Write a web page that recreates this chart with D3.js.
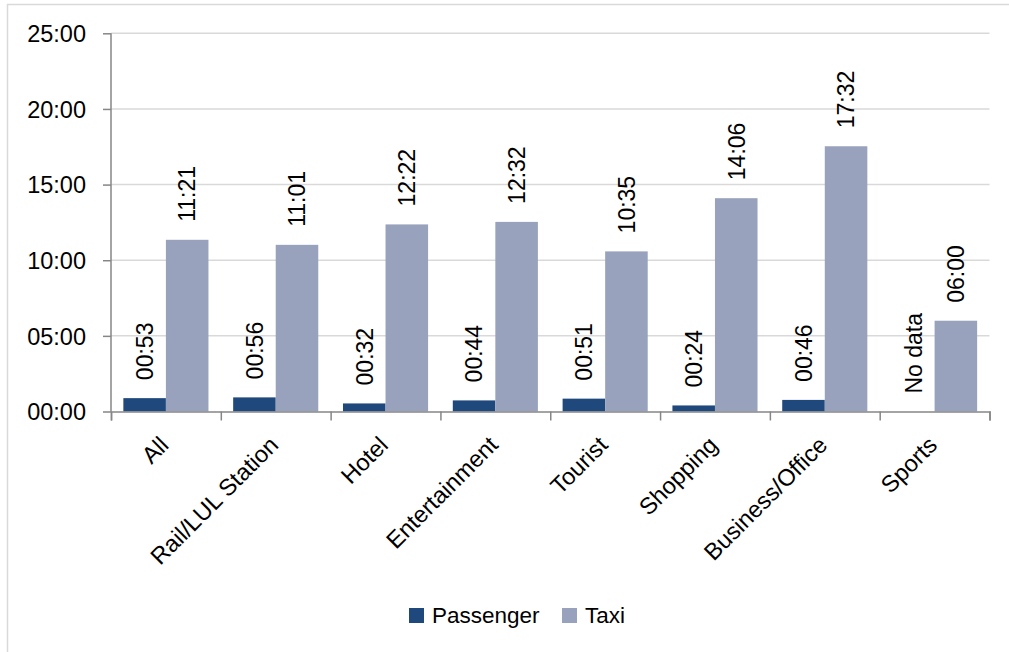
<!DOCTYPE html>
<html>
<head>
<meta charset="utf-8">
<script src="https://cdn.jsdelivr.net/npm/d3@7/dist/d3.min.js"></script>
<style>
  html, body { margin: 0; padding: 0; background: #fff; }
  svg { display: block; }
  text { font-family: "Liberation Sans", Arial, sans-serif; fill: #000; }
</style>
</head>
<body>
<svg id="chart" width="1009" height="652"></svg>
<script>
// Average waiting time by location type (values in seconds)
const categories = ["All", "Rail/LUL Station", "Hotel", "Entertainment", "Tourist", "Shopping", "Business/Office", "Sports"];
const seriesNames = ["Passenger", "Taxi"];
const passenger = [53, 56, 32, 44, 51, 24, 46, null];
const taxi = [681, 661, 742, 752, 635, 846, 1052, 360];
const yTicks = [0, 300, 600, 900, 1200, 1500];
const colors = { Passenger: "#1f497d", Taxi: "#98a2bd" };

const fmt = s => {
  const m = Math.floor(s / 60), sec = Math.round(s % 60);
  return String(m).padStart(2, "0") + ":" + String(sec).padStart(2, "0");
};

const rows = categories.map((c, i) => ({ cat: c, Passenger: passenger[i], Taxi: taxi[i] }));

const svg = d3.select("#chart");
const margin = { left: 111, right: 1009 - 989.5, top: 33.3, bottom: 652 - 411.5 };
const W = 1009, H = 652;
const labelSize = 23, axisSize = 23.5;

// chart frame
svg.append("rect")
  .attr("x", 7.5).attr("y", 4.5)
  .attr("width", 1020).attr("height", 680)
  .attr("fill", "#fff").attr("stroke", "#d9d9d9").attr("stroke-width", 1.5);

const x0 = d3.scaleBand()
  .domain(categories)
  .range([margin.left, W - margin.right])
  .paddingInner(0.225)
  .paddingOuter(0.1125);
const x1 = d3.scaleBand().domain(seriesNames).range([0, x0.bandwidth()]);
const y = d3.scaleLinear().domain([0, 1500]).range([H - margin.bottom, margin.top]);

// gridlines
svg.append("g").selectAll("line")
  .data(yTicks.filter(t => t > 0))
  .join("line")
  .attr("x1", margin.left).attr("x2", W - margin.right)
  .attr("y1", d => y(d)).attr("y2", d => y(d))
  .attr("stroke", "#d9d9d9").attr("stroke-width", 1.5);

// bars
const groups = svg.append("g").selectAll("g")
  .data(rows)
  .join("g")
  .attr("transform", d => `translate(${x0(d.cat)},0)`);

groups.selectAll("rect")
  .data(d => seriesNames.map(k => ({ key: k, value: d[k] })))
  .join("rect")
  .filter(d => d.value != null)
  .attr("x", d => x1(d.key))
  .attr("width", x1.bandwidth())
  .attr("y", d => y(d.value))
  .attr("height", d => y(0) - y(d.value))
  .attr("fill", d => colors[d.key]);

// value labels, rotated
groups.selectAll("text")
  .data(d => seriesNames.map(k => ({ key: k, value: d[k] })))
  .join("text")
  .attr("transform", d => `translate(${x1(d.key) + x1.bandwidth() / 2 + labelSize * 0.36},${y(d.value || 0) - 18}) rotate(-90)`)
  .attr("font-size", labelSize)
  .attr("text-anchor", "start")
  .text(d => d.value == null ? "No data" : fmt(d.value));

// y axis
const yAxis = d3.axisLeft(y).tickValues(yTicks).tickFormat(fmt).tickSize(8).tickPadding(17);
const gy = svg.append("g").attr("transform", `translate(${margin.left},0)`).call(yAxis);
gy.select(".domain").attr("stroke", "#868686").attr("stroke-width", 1.5).attr("d", `M0,${y(1500)}V${y(0)}`);
gy.selectAll(".tick line").attr("stroke", "#868686").attr("stroke-width", 1.5);
gy.selectAll(".tick text").attr("font-size", axisSize).attr("dy", "0.35em").style("font-family", null);

// x axis with ticks at category boundaries
const xb = d3.scaleLinear().domain([0, categories.length]).range([margin.left, W - margin.right]);
const xAxis = d3.axisBottom(xb).ticks(categories.length).tickFormat("").tickSize(9).tickSizeOuter(9);
const gx = svg.append("g").attr("transform", `translate(0,${y(0)})`).call(xAxis);
gx.select(".domain").attr("stroke", "#868686").attr("stroke-width", 1.5);
gx.selectAll(".tick line").attr("stroke", "#868686").attr("stroke-width", 1.5);

// category labels
svg.append("g").selectAll("text")
  .data(categories)
  .join("text")
  .attr("transform", d => `translate(${x0(d) + x0.bandwidth() / 2 + 4},${y(0) + 35}) rotate(-45)`)
  .attr("text-anchor", "end")
  .attr("font-size", axisSize)
  .text(d => d);

// legend
const legend = svg.append("g");
const legendItems = [{ key: "Passenger", x: 409 }, { key: "Taxi", x: 562 }];
legendItems.forEach(it => {
  legend.append("rect").attr("x", it.x).attr("y", 608).attr("width", 15).attr("height", 15).attr("fill", colors[it.key]);
  legend.append("text").attr("x", it.x + 23).attr("y", 623).attr("font-size", 22.5).text(it.key);
});
</script>
</body>
</html>
